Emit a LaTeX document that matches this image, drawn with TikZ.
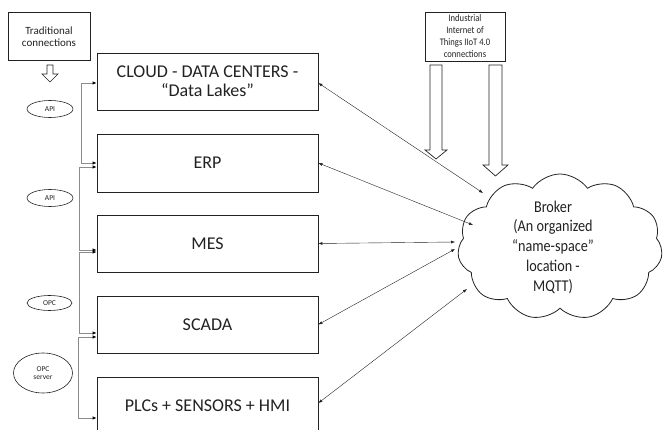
\documentclass[tikz,border=0pt]{standalone}
\usepackage{fontspec}
\setmainfont{Carlito}
\newfontfamily\narrowfont[FakeStretch=0.86,Ligatures=TeX]{Carlito}
\usetikzlibrary{shapes.symbols,shapes.geometric,arrows.meta}
\definecolor{ink}{HTML}{222222}
\definecolor{lgray}{HTML}{8C8C8C}
\tikzset{
  layer/.style={draw=ink,line width=0.8pt,minimum width=221pt,minimum height=57pt,align=center,text=ink,font=\fontsize{18}{19}\selectfont,inner sep=0pt},
  note/.style={draw=ink,line width=0.7pt,align=center,text=ink,inner sep=0pt},
  proto/.style={ellipse,draw=ink,line width=0.6pt,align=center,text=ink,inner sep=0pt,font=\fontsize{7.5}{8.5}\selectfont},
  elbow/.style={draw=lgray,line width=0.8pt,{Latex[length=4pt,width=3.5pt,color=black]}-{Latex[length=4pt,width=3.5pt,color=black]}},
  link/.style={draw=ink,line width=0.4pt,{Latex[length=4pt,width=3pt]}-{Latex[length=4pt,width=3pt]}},
  hollow/.style={draw=ink,line width=0.7pt,fill=white,line join=miter}
}
\begin{document}
\begin{tikzpicture}[x=1pt,y=-1pt]
\useasboundingbox (0,0) rectangle (664,430);
\clip (0,0) rectangle (664,430);

% layer boxes
\node[layer] (cloud) at (207.5,81.5) {CLOUD - DATA CENTERS -\\“Data Lakes”};
\node[layer,minimum height=58pt] (erp) at (207.5,163) {ERP};
\node[layer] (mes) at (207.5,243.5) {MES};
\node[layer] (scada) at (207.5,324.5) {SCADA};
\node[layer,minimum height=58pt] (plc) at (207.5,406) {PLCs + SENSORS + HMI};

% info boxes
\node[note,minimum width=82pt,minimum height=48pt,font=\fontsize{11}{12}\selectfont] (trad) at (49,36.5) {Traditional\\connections};
\node[note,minimum width=80pt,minimum height=49pt,font=\narrowfont\fontsize{10}{12}\selectfont] (iiot) at (465,36.5) {Industrial\\Internet of\\Things IIoT 4.0\\connections};

% protocol ellipses
\node[proto,minimum width=46pt,minimum height=17pt] (api1) at (50,109) {API};
\node[proto,minimum width=46pt,minimum height=17pt] (api2) at (50,198) {API};
\node[proto,minimum width=45pt,minimum height=15pt] (opc) at (49.5,303) {OPC};
\node[proto,minimum width=59pt,minimum height=40pt] (opcs) at (43,373) {OPC\\server};

% broker cloud
\node[cloud,draw=ink,line width=0.8pt,cloud puffs=11,cloud puff arc=110,aspect=1.45,
      minimum width=205pt,minimum height=146pt,inner sep=0pt] (broker) at (560,247) {};
\node[align=center,text=ink,inner sep=0pt,font=\narrowfont\fontsize{16.5}{19.75}\selectfont] (brokertxt) at (553,247)
      {Broker\\(An organized\\“name-space”\\location -\\MQTT)};

% hollow arrows
\draw[hollow] (47,65) -- (53,65) -- (53,74) -- (58,74) -- (50,82) -- (42,74) -- (47,74) -- cycle;
\draw[hollow] (430,65) -- (442,65) -- (442,150) -- (447,150) -- (436,159) -- (425,150) -- (430,150) -- cycle;
\draw[hollow] (489,65) -- (502,65) -- (502,165) -- (508,165) -- (495.5,176) -- (483,165) -- (489,165) -- cycle;

% left elbow connectors
\draw[elbow] ([yshift=-1.5pt]cloud.west) -- (81,83) -- (81,163) -- ([yshift=0pt]erp.west);
\draw[elbow] ([yshift=-4pt]erp.west) -- (79,167) -- (79,250) -- ([yshift=-6.5pt]mes.west);
\draw[elbow] ([yshift=-8.5pt]mes.west) -- (79,252) -- (79,333) -- ([yshift=-8.5pt]scada.west);
\draw[elbow] ([yshift=-12.5pt]scada.west) -- (78,337) -- (78,418) -- ([yshift=-12pt]plc.west);

% broker links
\coordinate (b1) at (483,193);
\coordinate (b2) at (473,225);
\coordinate (b3) at (455,242);
\coordinate (b4) at (455,249);
\coordinate (b5) at (467,289);
\draw[link] ([yshift=-1.5pt]cloud.east) -- (b1);
\draw[link] (erp.east) -- (b2);
\draw[link] (mes.east) -- (b3);
\draw[link] (scada.east) -- (b4);
\draw[link] ([yshift=3pt]plc.east) -- (b5);
\end{tikzpicture}
\end{document}
